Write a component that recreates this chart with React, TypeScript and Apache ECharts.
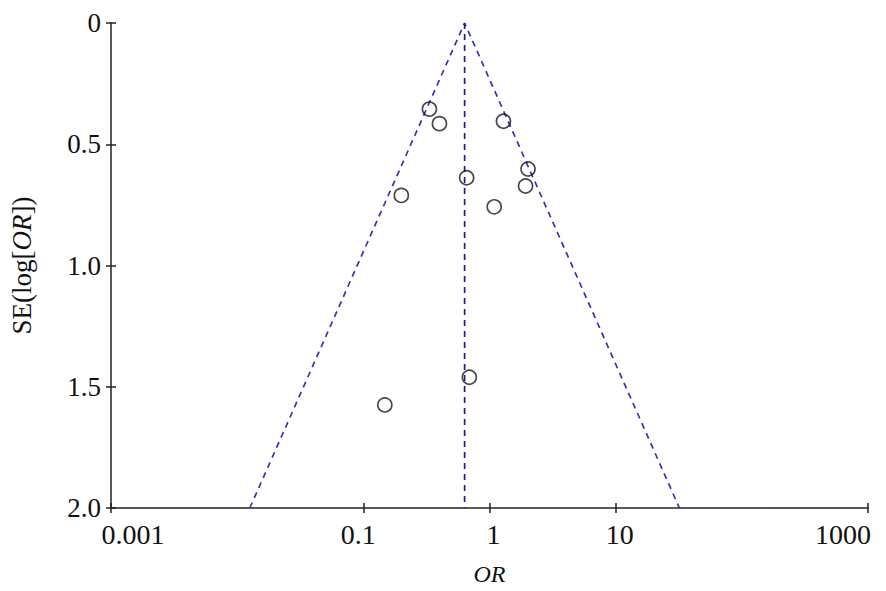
import React, { useEffect, useRef } from "react";
import * as echarts from "echarts";

// Study odds ratios and their standard errors (SE of log OR)
const studyOR = [0.334, 0.401, 1.29, 2.02, 1.93, 0.659, 0.2, 1.09, 0.692, 0.148];
const studySE = [0.355, 0.415, 0.405, 0.602, 0.672, 0.638, 0.711, 0.758, 1.461, 1.575];

// Pooled estimate and funnel limits
const pooledOR = 0.635;
const zCrit = 1.96;
const seMax = 2.0;

// Axis ticks (x: powers of ten)
const xTickExponents = [-3, -1, 0, 1, 3];
const xTickLabels = ["0.001", "0.1", "1", "10", "1000"];
const yTickValues = [0, 0.5, 1.0, 1.5, 2.0];
const yTickLabels = ["0", "0.5", "1.0", "1.5", "2.0"];

const FONT = "'Liberation Serif', 'DejaVu Serif', serif";
const AXIS_COLOR = "#222";
const FUNNEL_COLOR = "#3434b4";
const CENTER_COLOR = "#1c1c98";

export default function App() {
  const ref = useRef<HTMLDivElement>(null);

  useEffect(() => {
    if (!ref.current) return;
    const chart = echarts.init(ref.current, null, { renderer: "svg" });

    const lower = pooledOR * Math.exp(-zCrit * seMax);
    const upper = pooledOR * Math.exp(zCrit * seMax);

    const xLabelRich: any = {
      l: { fontFamily: FONT, fontSize: 28, color: "#111", padding: [0, 0, 0, 44] },
      ml: { fontFamily: FONT, fontSize: 28, color: "#111", padding: [0, 10, 0, 0] },
      mr: { fontFamily: FONT, fontSize: 28, color: "#111", padding: [0, 0, 0, 8] },
      r: { fontFamily: FONT, fontSize: 28, color: "#111", padding: [0, 50, 0, 0] },
    };
    const xStyleKeys = ["l", "ml", "mr", "mr", "r"];

    const option: any = {
      animation: false,
      backgroundColor: "#fff",
      grid: { left: 107, right: 18, top: 23, bottom: 83, containLabel: false },
      xAxis: [
        {
          type: "log",
          logBase: 10,
          min: 0.001,
          max: 1000,
          position: "bottom",
          axisLine: { show: true, onZero: false, lineStyle: { color: AXIS_COLOR, width: 1.5 } },
          axisTick: { show: false },
          axisLabel: { show: false },
          splitLine: { show: false },
          name: "OR",
          nameLocation: "middle",
          nameGap: 54,
          nameTextStyle: {
            fontFamily: FONT,
            fontStyle: "italic",
            fontSize: 24,
            color: "#111",
          },
        },
        {
          type: "value",
          min: -3,
          max: 3,
          position: "bottom",
          axisLine: { show: false, onZero: false },
          axisTick: {
            show: true,
            customValues: xTickExponents,
            length: 5,
            lineStyle: { color: AXIS_COLOR, width: 1.5 },
          },
          axisLabel: {
            show: true,
            customValues: xTickExponents,
            margin: 12,
            formatter: (v: number) => {
              const i = xTickExponents.indexOf(Math.round(v));
              if (i < 0) return "";
              return "{" + xStyleKeys[i] + "|" + xTickLabels[i] + "}";
            },
            rich: xLabelRich,
            fontFamily: FONT,
            fontSize: 28,
            color: "#111",
          },
          splitLine: { show: false },
        },
        {
          type: "value",
          min: -3,
          max: 3,
          position: "bottom",
          axisLine: { show: false, onZero: false },
          axisTick: {
            show: true,
            inside: true,
            customValues: xTickExponents,
            length: 5,
            lineStyle: { color: AXIS_COLOR, width: 1.5 },
          },
          axisLabel: { show: false },
          splitLine: { show: false },
        },
      ],
      yAxis: [
        {
          type: "value",
          inverse: true,
          min: 0,
          max: 2,
          interval: 0.5,
          position: "left",
          axisLine: { show: true, onZero: false, lineStyle: { color: AXIS_COLOR, width: 1.5 } },
          axisTick: { show: true, length: 5, lineStyle: { color: AXIS_COLOR, width: 1.5 } },
          axisLabel: {
            margin: 10,
            fontFamily: FONT,
            fontSize: 27,
            color: "#111",
            formatter: (v: number) => {
              const i = yTickValues.findIndex((t) => Math.abs(t - v) < 1e-9);
              return i >= 0 ? yTickLabels[i] : "";
            },
          },
          splitLine: { show: false },
          name: "SE(log[{i|OR}])",
          nameLocation: "middle",
          nameGap: 76,
          nameTextStyle: {
            fontFamily: FONT,
            fontSize: 27,
            color: "#111",
            rich: {
              i: { fontFamily: FONT, fontSize: 27, fontStyle: "italic", color: "#111" },
            },
          },
        },
        {
          type: "value",
          inverse: true,
          min: 0,
          max: 2,
          interval: 0.5,
          position: "left",
          axisLine: { show: false, onZero: false },
          axisTick: { show: true, inside: true, length: 5, lineStyle: { color: AXIS_COLOR, width: 1.5 } },
          axisLabel: { show: false },
          splitLine: { show: false },
        },
      ],
      series: [
        {
          type: "line",
          xAxisIndex: 0,
          yAxisIndex: 0,
          data: [
            [lower, seMax],
            [pooledOR, 0],
            [upper, seMax],
          ],
          symbol: "none",
          lineStyle: { color: FUNNEL_COLOR, width: 1.7, type: [6, 5] },
          silent: true,
          z: 2,
        },
        {
          type: "line",
          xAxisIndex: 0,
          yAxisIndex: 0,
          data: [
            [pooledOR, 0],
            [pooledOR, seMax],
          ],
          symbol: "none",
          lineStyle: { color: CENTER_COLOR, width: 1.7, type: [6, 5] },
          silent: true,
          z: 2,
        },
        {
          type: "scatter",
          xAxisIndex: 0,
          yAxisIndex: 0,
          data: studyOR.map((v, i) => [v, studySE[i]]),
          symbol: "circle",
          symbolSize: 14,
          itemStyle: { color: "rgba(255,255,255,0)", borderColor: "#1a1a1a", borderWidth: 1.7 },
          z: 3,
        },
      ],
    };

    chart.setOption(option);
    return () => chart.dispose();
  }, []);

  return (
    <div
      ref={ref}
      style={{ position: "fixed", left: 0, top: 0, width: 886, height: 591, background: "#fff" }}
    />
  );
}
